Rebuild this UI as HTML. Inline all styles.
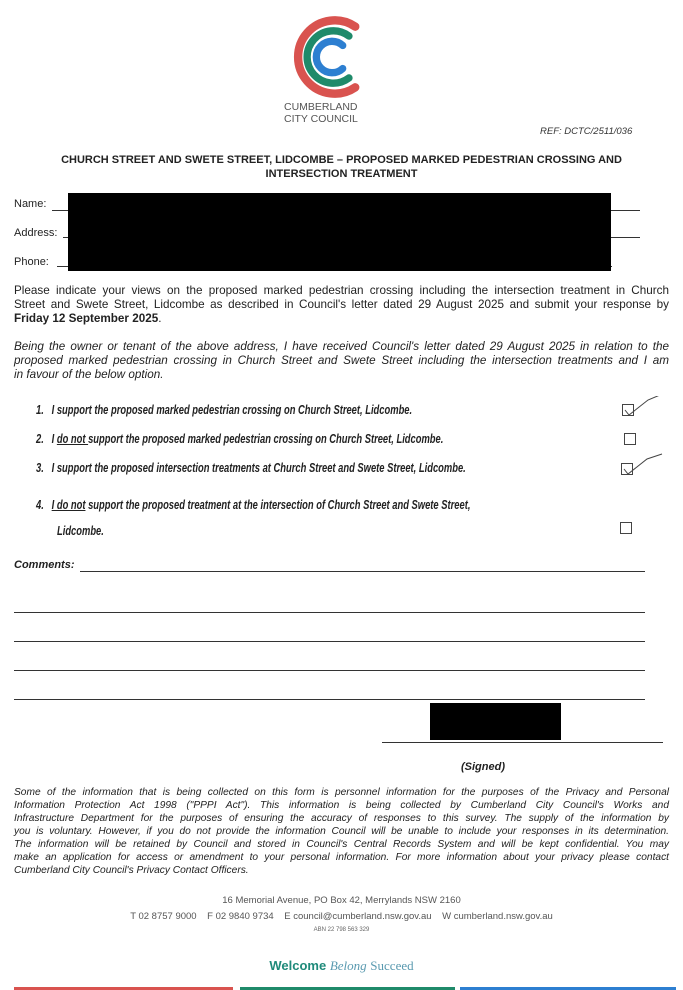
<!DOCTYPE html>
<html><head><meta charset="utf-8"><style>
*{margin:0;padding:0}
body{width:683px;height:990px;background:#fff;position:relative;overflow:hidden;font-family:"Liberation Sans",Arial,sans-serif;color:#222}
.a{position:absolute;white-space:nowrap}
.n{transform-origin:left top}
.ln{position:absolute;height:1px;background:#333}
.blk{position:absolute;background:#000}
.cb{position:absolute;width:10px;height:10px;border:1px solid #444}
.j{position:absolute;left:14px;width:655px;text-align:justify;text-align-last:justify;white-space:nowrap;overflow:visible}
.p{font-size:11.7px;line-height:14px}
.pv{font-size:10.2px;font-style:italic}
</style></head><body>
<svg class="a" style="left:282px;top:12px" width="90" height="90" viewBox="0 0 86 86">
<path d="M70 14 A35 35 0 1 0 70 72" fill="none" stroke="#d9534f" stroke-width="8" stroke-linecap="round"/>
<path d="M64 23 A25 25 0 1 0 64 63" fill="none" stroke="#1f8a6a" stroke-width="7" stroke-linecap="round"/>
<path d="M58 32 A15 15 0 1 0 58 54" fill="none" stroke="#2d7fd1" stroke-width="7" stroke-linecap="round"/>
</svg>
<div class="a" style="left:284px;top:101px;font-size:10.5px;line-height:12px;color:#555">CUMBERLAND<br>CITY COUNCIL</div>
<div class="a" style="left:540px;top:126px;font-size:9.5px;font-style:italic;color:#333">REF: DCTC/2511/036</div>
<div class="a" style="left:0;width:683px;top:153px;text-align:center;font-size:11px;font-weight:bold;line-height:14px">CHURCH STREET AND SWETE STREET, LIDCOMBE – PROPOSED MARKED PEDESTRIAN CROSSING AND<br>INTERSECTION TREATMENT</div>
<div class="a" style="left:14px;top:198px;font-size:11px">Name:</div>
<div class="a" style="left:14px;top:227px;font-size:11px">Address:</div>
<div class="a" style="left:14px;top:256px;font-size:11px">Phone:</div>
<div class="ln" style="left:52px;top:210px;width:588px"></div>
<div class="ln" style="left:63px;top:237px;width:577px"></div>
<div class="ln" style="left:57px;top:266px;width:555px"></div>
<div class="blk" style="left:68px;top:193px;width:543px;height:78px"></div>
<div class="j p" style="top:284px">Please indicate your views on the proposed marked pedestrian crossing including the intersection treatment in Church</div>
<div class="j p" style="top:298px">Street and Swete Street, Lidcombe as described in Council's letter dated 29 August 2025 and submit your response by</div>
<div class="a p" style="left:14px;top:312px"><b>Friday 12 September 2025</b>.</div>
<div class="j p" style="top:340px;font-style:italic">Being the owner or tenant of the above address, I have received Council's letter dated 29 August 2025 in relation to the</div>
<div class="j p" style="top:354px;font-style:italic">proposed marked pedestrian crossing in Church Street and Swete Street including the intersection treatments and I am</div>
<div class="a p" style="left:14px;top:368px;font-style:italic">in favour of the below option.</div>
<div class="a n" style="left:36px;top:403px;font-size:12.5px;font-weight:bold;font-style:italic;transform:scaleX(.75)">1.&nbsp;&nbsp; I support the proposed marked pedestrian crossing on Church Street, Lidcombe.</div>
<div class="a n" style="left:36px;top:432px;font-size:12.5px;font-weight:bold;font-style:italic;transform:scaleX(.75)">2.&nbsp;&nbsp; I <u>do not </u>support the proposed marked pedestrian crossing on Church Street, Lidcombe.</div>
<div class="a n" style="left:36px;top:461px;font-size:12.5px;font-weight:bold;font-style:italic;transform:scaleX(.75)">3.&nbsp;&nbsp; I support the proposed intersection treatments at Church Street and Swete Street, Lidcombe.</div>
<div class="a n" style="left:36px;top:498px;font-size:12.5px;font-weight:bold;font-style:italic;transform:scaleX(.75)">4.&nbsp;&nbsp; <u>I do not</u> support the proposed treatment at the intersection of Church Street and Swete Street,</div>
<div class="a n" style="left:57px;top:524px;font-size:12.5px;font-weight:bold;font-style:italic;transform:scaleX(.75)">Lidcombe.</div>
<div class="cb" style="left:622px;top:404px"></div>
<div class="cb" style="left:624px;top:433px"></div>
<div class="cb" style="left:621px;top:463px"></div>
<div class="cb" style="left:620px;top:522px"></div>
<svg class="a" style="left:620px;top:396px" width="50" height="90"><path d="M5 14 L9 19 L28 4 L40 -1" fill="none" stroke="#444" stroke-width="1"/><path d="M4 73 L8 78 L27 63 L42 58" fill="none" stroke="#444" stroke-width="1"/></svg>
<div class="a" style="left:14px;top:559px;font-size:11px;font-weight:bold;font-style:italic">Comments:</div>
<div class="ln" style="left:80px;top:571px;width:565px"></div>
<div class="ln" style="left:14px;top:612px;width:631px"></div>
<div class="ln" style="left:14px;top:641px;width:631px"></div>
<div class="ln" style="left:14px;top:670px;width:631px"></div>
<div class="ln" style="left:14px;top:699px;width:631px"></div>
<div class="blk" style="left:430px;top:703px;width:131px;height:37px"></div>
<div class="ln" style="left:382px;top:742px;width:281px"></div>
<div class="a" style="left:461px;top:761px;font-size:11px;font-weight:bold;font-style:italic">(Signed)</div>
<div class="j pv" style="top:787px">Some of the information that is being collected on this form is personnel information for the purposes of the Privacy and Personal</div>
<div class="j pv" style="top:800px">Information Protection Act 1998 ("PPPI Act"). This information is being collected by Cumberland City Council's Works and</div>
<div class="j pv" style="top:813px">Infrastructure Department for the purposes of ensuring the accuracy of responses to this survey. The supply of the information by</div>
<div class="j pv" style="top:826px">you is voluntary. However, if you do not provide the information Council will be unable to include your responses in its determination.</div>
<div class="j pv" style="top:839px">The information will be retained by Council and stored in Council's Central Records System and will be kept confidential. You may</div>
<div class="j pv" style="top:852px">make an application for access or amendment to your personal information. For more information about your privacy please contact</div>
<div class="a pv" style="left:14px;top:865px">Cumberland City Council's Privacy Contact Officers.</div>
<div class="a" style="left:0;width:683px;text-align:center;top:895px;font-size:9.5px;color:#555">16 Memorial Avenue, PO Box 42, Merrylands NSW 2160</div>
<div class="a" style="left:0;width:683px;text-align:center;top:911px;font-size:9.5px;color:#555">T 02 8757 9000 &nbsp;&nbsp; F 02 9840 9734 &nbsp;&nbsp; E council@cumberland.nsw.gov.au &nbsp;&nbsp; W cumberland.nsw.gov.au</div>
<div class="a" style="left:0;width:683px;text-align:center;top:927px;font-size:6px;color:#666">ABN 22 798 563 329</div>
<div class="a" style="left:0;width:683px;text-align:center;top:958px;font-size:13px;color:#1f8a7a"><b>Welcome</b> <i style="font-family:'Liberation Serif',serif;color:#5a9ab0">Belong</i> <span style="font-family:'Liberation Serif',serif;color:#5a9ab0">Succeed</span></div>
<div class="a" style="left:14px;top:987px;width:219px;height:3px;background:#d9534f"></div>
<div class="a" style="left:240px;top:987px;width:215px;height:3px;background:#1f8a6a"></div>
<div class="a" style="left:460px;top:987px;width:216px;height:3px;background:#2d7fd1"></div>
</body></html>
